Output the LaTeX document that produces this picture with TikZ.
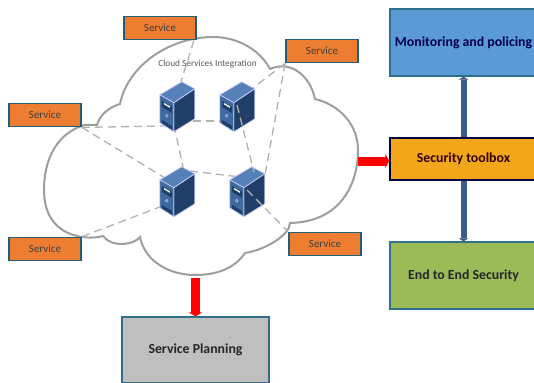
\documentclass[tikz,border=0pt]{standalone}
\usepackage{fontspec}
\setmainfont{Carlito}
\usetikzlibrary{arrows.meta,positioning}
\definecolor{svcfill}{HTML}{ED7D31}
\definecolor{svcline}{HTML}{235E78}
\definecolor{boxline}{HTML}{2F6F8F}
\definecolor{monfill}{HTML}{5B9BD5}
\definecolor{toolfill}{HTML}{F2A71B}
\definecolor{endfill}{HTML}{9BBB59}
\definecolor{planfill}{HTML}{BFBFBF}
\definecolor{linkarrow}{HTML}{3B5B8A}
\definecolor{srvfront}{HTML}{3F6A9E}
\definecolor{srvtop}{HTML}{5580B8}
\definecolor{srvside}{HTML}{1F3F68}
\begin{document}
\begin{tikzpicture}[x=1pt, y=-1pt,
             service/.style = {draw=svcline, fill=svcfill, line width=1.8pt, minimum height=23pt, minimum width=72pt, font=\fontsize{11}{13}\selectfont, text=black!75},
             block/.style = {draw=boxline, line width=1.4pt, minimum width=147pt, font=\fontsize{13.8}{16}\selectfont\bfseries, text=black!85},
             link/.style = {draw=black!30, line width=1.3pt, dash pattern=on 8pt off 5pt},
             redarrow/.style = {draw=red, line width=9pt, -{Triangle[width=14pt,length=4pt]}},
             bluearrow/.style = {draw=linkarrow, line width=6pt, {Triangle[width=10pt,length=3pt]}-},
             server/.style = {minimum width=35pt, minimum height=53pt, inner sep=0pt},
]
\useasboundingbox (0,0) rectangle (534,382);
%% cloud
\draw[black!38, line width=2pt, fill=white]
    (85,125) .. controls (90,125) and (94,125) .. (97,125)
    .. controls (100,114) and (110,107) .. (120,104)
    .. controls (128,65) and (170,37) .. (213,37)
    .. controls (238,37) and (260,50) .. (270,69)
    .. controls (290,60) and (310,75) .. (315,99)
    .. controls (340,105) and (358,125) .. (358,150)
    .. controls (358,185) and (340,222) .. (290,223)
    .. controls (290,235) and (265,250) .. (245,253)
    .. controls (232,272) and (210,275) .. (195,275)
    .. controls (170,275) and (145,262) .. (140,237)
    .. controls (134,245) and (112,248) .. (103,236)
    .. controls (90,240) and (44,240) .. (44,190)
    .. controls (44,150) and (65,130) .. (85,125) -- cycle;
\node (cloudtitle) at (207.5,64) {\fontsize{9.3}{11}\selectfont\textcolor{black!65}{Cloud Services Integration}};
\coordinate (cloudright) at (358,161);
\coordinate (cloudbottom) at (195.5,278);

%% boxes
\node [service] (svctop)   at (160,28)  {Service};
\node [service] (svcright) at (322,51)  {Service};
\node [service] (svcleft)  at (45,115)  {Service};
\node [service] (svcbl)    at (45,249)  {Service};
\node [service] (svcbr)    at (325,244) {Service};
\node [block, fill=monfill, minimum height=67pt, text=blue!30!black]  (mon)  at (463.5,42.5) {Monitoring and policing};
\node [block, fill=toolfill, minimum height=42pt, draw=black!75!blue, text=black!80!red] (tool) at (463.5,159) {Security toolbox};
\node [block, fill=endfill, minimum height=67pt]  (endsec) at (463.5,275.5) {End to End Security};
\node [block, fill=planfill, minimum height=66pt] (plan)   at (195.5,350)   {Service Planning};

%% servers
\foreach \n/\cx/\cy in {srva/177.5/106.5, srvb/237.5/106.5, srvc/177.5/191.5, srvd/247.5/191.5}
    \node [server] (\n) at (\cx,\cy) {};

%% where the dashed lines end, behind the servers
\foreach \n/\px/\py in {atop/180/85, aleft/165/126, aright/180/121, adown/174/125,
                        bleft/225/121, bright/245/94, btop/237/105,
                        cup/184/172, cright/190/171, cleft/165/178, cdown/165/205,
                        dleft/240/177, dtop/254/172, dright/265/175, dbot/247/190}
    \coordinate (\n) at (\px,\py);

%% paths
\draw[link] (svctop.south east) ++(-3,0) -- (atop);
\draw[link] (svcleft.south east) -- (aleft);
\draw[link] (svcleft.south east) -- (cleft);
\draw[link] (aright) -- (bleft);
\draw[link] (adown) -- (cup);
\draw[link] (cright) -- (dleft);
\draw[link] (svcright.south west) -- (bright);
\draw[link] (svcright.south west) -- (dright);
\draw[link] (svcbl.north east) -- (cdown);

\foreach \n in {srva,srvb,srvc,srvd} {
\begin{scope}[shift={(\n.north west)}, draw=white!80!blue, line width=.7pt, line join=round]
    \filldraw[fill=srvtop]   (0,15) -- (22,2) -- (35,9) -- (14,23) -- cycle;
    \filldraw[fill=srvside]  (14,23) -- (35,9) -- (35,39) -- (14,52) -- cycle;
    \filldraw[fill=srvfront] (0,15) -- (14,23) -- (14,52) -- (0,43) -- cycle;
    \fill[srvside] (2,21) -- (12,27) -- (12,33) -- (2,27) -- cycle;
    \fill[white] (4,23) -- (10,26.5) -- (10,28) -- (4,24.5) -- cycle;
    \fill[srvside] (2,40) -- (12,46) -- (12,49.5) -- (2,43.5) -- cycle;
    \draw[white!70!blue] (7,36) circle (1.4pt);
\end{scope}}

\draw[link] (btop) -- (dtop);
\draw[link] (dbot) -- (svcbr.north west);

\draw[redarrow] (cloudright) -- (cloudright -| tool.west);
\draw[redarrow] (cloudbottom) -- (plan.north);
\draw[bluearrow] (mon.south) -- (tool.north);
\draw[bluearrow] (endsec.north) -- (tool.south);
\end{tikzpicture}
\end{document}
